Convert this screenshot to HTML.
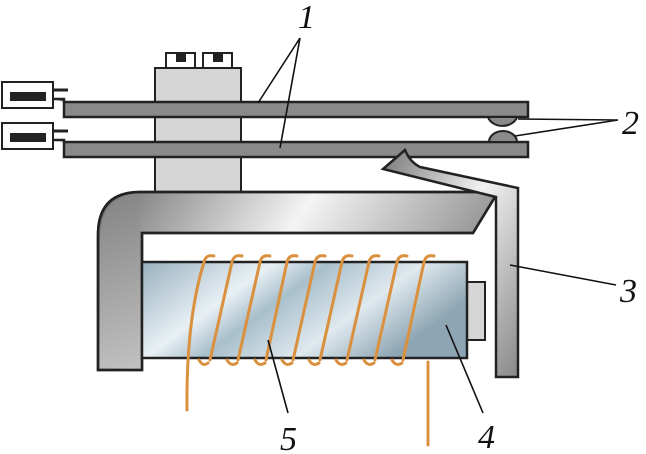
<!DOCTYPE html>
<html><head><meta charset="utf-8"><style>
html,body{margin:0;padding:0;background:#fff;width:646px;height:454px;overflow:hidden}
svg text{font-family:"Liberation Serif",serif;font-style:italic;font-size:34px;fill:#111}
</style></head><body>
<svg width="646" height="454" viewBox="0 0 646 454" xmlns="http://www.w3.org/2000/svg">
<defs>
<linearGradient id="yk" x1="0" y1="0" x2="1" y2="0.3">
<stop offset="0" stop-color="#6e6e6e"/><stop offset="0.5" stop-color="#f4f4f4"/><stop offset="1" stop-color="#8a8a8a"/></linearGradient>
<linearGradient id="yv" x1="0" y1="0" x2="0" y2="1">
<stop offset="0" stop-color="#888"/><stop offset="1" stop-color="#bdbdbd"/></linearGradient>
<linearGradient id="core" x1="0" y1="0" x2="1" y2="0.4">
<stop offset="0" stop-color="#98b0bf"/><stop offset="0.35" stop-color="#e8f0f4"/><stop offset="0.5" stop-color="#a8bfcc"/><stop offset="0.75" stop-color="#dfe9ee"/><stop offset="1" stop-color="#8ea6b4"/></linearGradient>
<linearGradient id="arm" x1="0" y1="0" x2="1" y2="1">
<stop offset="0" stop-color="#777"/><stop offset="0.45" stop-color="#f2f2f2"/><stop offset="1" stop-color="#888"/></linearGradient>
</defs>
<!-- block -->
<rect x="155" y="68" width="86" height="124" fill="#d6d6d6" stroke="#222" stroke-width="2"/>
<rect x="166" y="53" width="29" height="15" fill="#fff" stroke="#222" stroke-width="2"/>
<rect x="176" y="54" width="10" height="8" fill="#222"/>
<rect x="203" y="53" width="29" height="15" fill="#fff" stroke="#222" stroke-width="2"/>
<rect x="213" y="54" width="10" height="8" fill="#222"/>
<!-- connectors -->
<rect x="2" y="82" width="51" height="26" fill="#fff" stroke="#222" stroke-width="2"/>
<rect x="10" y="92" width="36" height="9" fill="#222"/>
<line x1="53" y1="90" x2="68" y2="90" stroke="#222" stroke-width="3"/>
<rect x="2" y="123" width="51" height="26" fill="#fff" stroke="#222" stroke-width="2"/>
<rect x="10" y="133" width="36" height="9" fill="#222"/>
<line x1="53" y1="131" x2="68" y2="131" stroke="#222" stroke-width="3"/>
<!-- bars -->
<path d="M53,99 H64 V102 H528 V117 H64 V102" fill="#8a8a8a" stroke="#222" stroke-width="2.5"/>
<path d="M53,140 H64 V142 H528 V157 H64 V142" fill="#8a8a8a" stroke="#222" stroke-width="2.5"/>
<!-- contacts -->
<path d="M488,117 A15,12 0 0 0 517,117 Z" fill="#8a8a8a" stroke="#222" stroke-width="2"/>
<path d="M489,142 A14,11 0 0 1 517,142 Z" fill="#8a8a8a" stroke="#222" stroke-width="2"/>
<!-- yoke -->
<path d="M98,370 V235 Q98,192 140,192 H498 L473,233 H142 V370 Z" fill="url(#yk)" stroke="#222" stroke-width="2.5"/>
<path d="M100,240 Q100,195 140,194 L140,368 L100,368 Z" fill="url(#yv)" opacity="0.8"/>
<path d="M98,370 V235 Q98,192 140,192 H498 L473,233 H142 V370 Z" fill="none" stroke="#222" stroke-width="2.5"/>
<!-- armature -->
<path d="M405,150 Q410,162 420,167 L518,188 V377 H496 V197 L383,169 Z" fill="url(#arm)" stroke="#222" stroke-width="2.5"/>
<!-- core -->
<rect x="467" y="282" width="18" height="58" fill="#d6d6d6" stroke="#222" stroke-width="2"/>
<rect x="142" y="262" width="325" height="96" fill="url(#core)" stroke="#222" stroke-width="2.5"/>
<!-- coil -->
<g fill="none" stroke="#d9913f" stroke-width="3" stroke-linecap="round">
<path d="M187,410 Q186,320 204,262 Q206,254 214,256"/>
<path d="M208,363 Q203,367 199,360"/>
<path d="M210,360 L232,262 Q234,254 242,256"/>
<path d="M237,363 Q231,367 227,360"/>
<path d="M238,360 L260,262 Q262,254 270,256"/>
<path d="M265,363 Q259,367 255,360"/>
<path d="M266,360 L287,262 Q289,254 297,256"/>
<path d="M292,363 Q286,367 282,360"/>
<path d="M293,360 L315,262 Q317,254 325,256"/>
<path d="M319,363 Q313,367 309,360"/>
<path d="M320,360 L342,262 Q344,254 352,256"/>
<path d="M346,363 Q340,367 336,360"/>
<path d="M347,360 L369,262 Q371,254 379,256"/>
<path d="M374,363 Q368,367 364,360"/>
<path d="M375,360 L397,262 Q399,254 407,256"/>
<path d="M402,363 Q396,367 392,360"/>
<path d="M403,360 L424,262 Q426,254 434,256"/>
<path d="M428,362 V445"/>
</g>
<!-- leaders -->
<g stroke="#111" stroke-width="1.6" fill="none">
<path d="M300,38 L258,103 M300,38 L280,148"/>
<path d="M618,120 L518,119 M618,120 L515,136"/>
<path d="M510,265 L616,285"/>
<path d="M446,325 L483,413"/>
<path d="M268,340 L288,413"/>
</g>
<text x="298" y="28">1</text>
<text x="622" y="134">2</text>
<text x="620" y="302">3</text>
<text x="478" y="448">4</text>
<text x="280" y="450">5</text>
</svg>
</body></html>
